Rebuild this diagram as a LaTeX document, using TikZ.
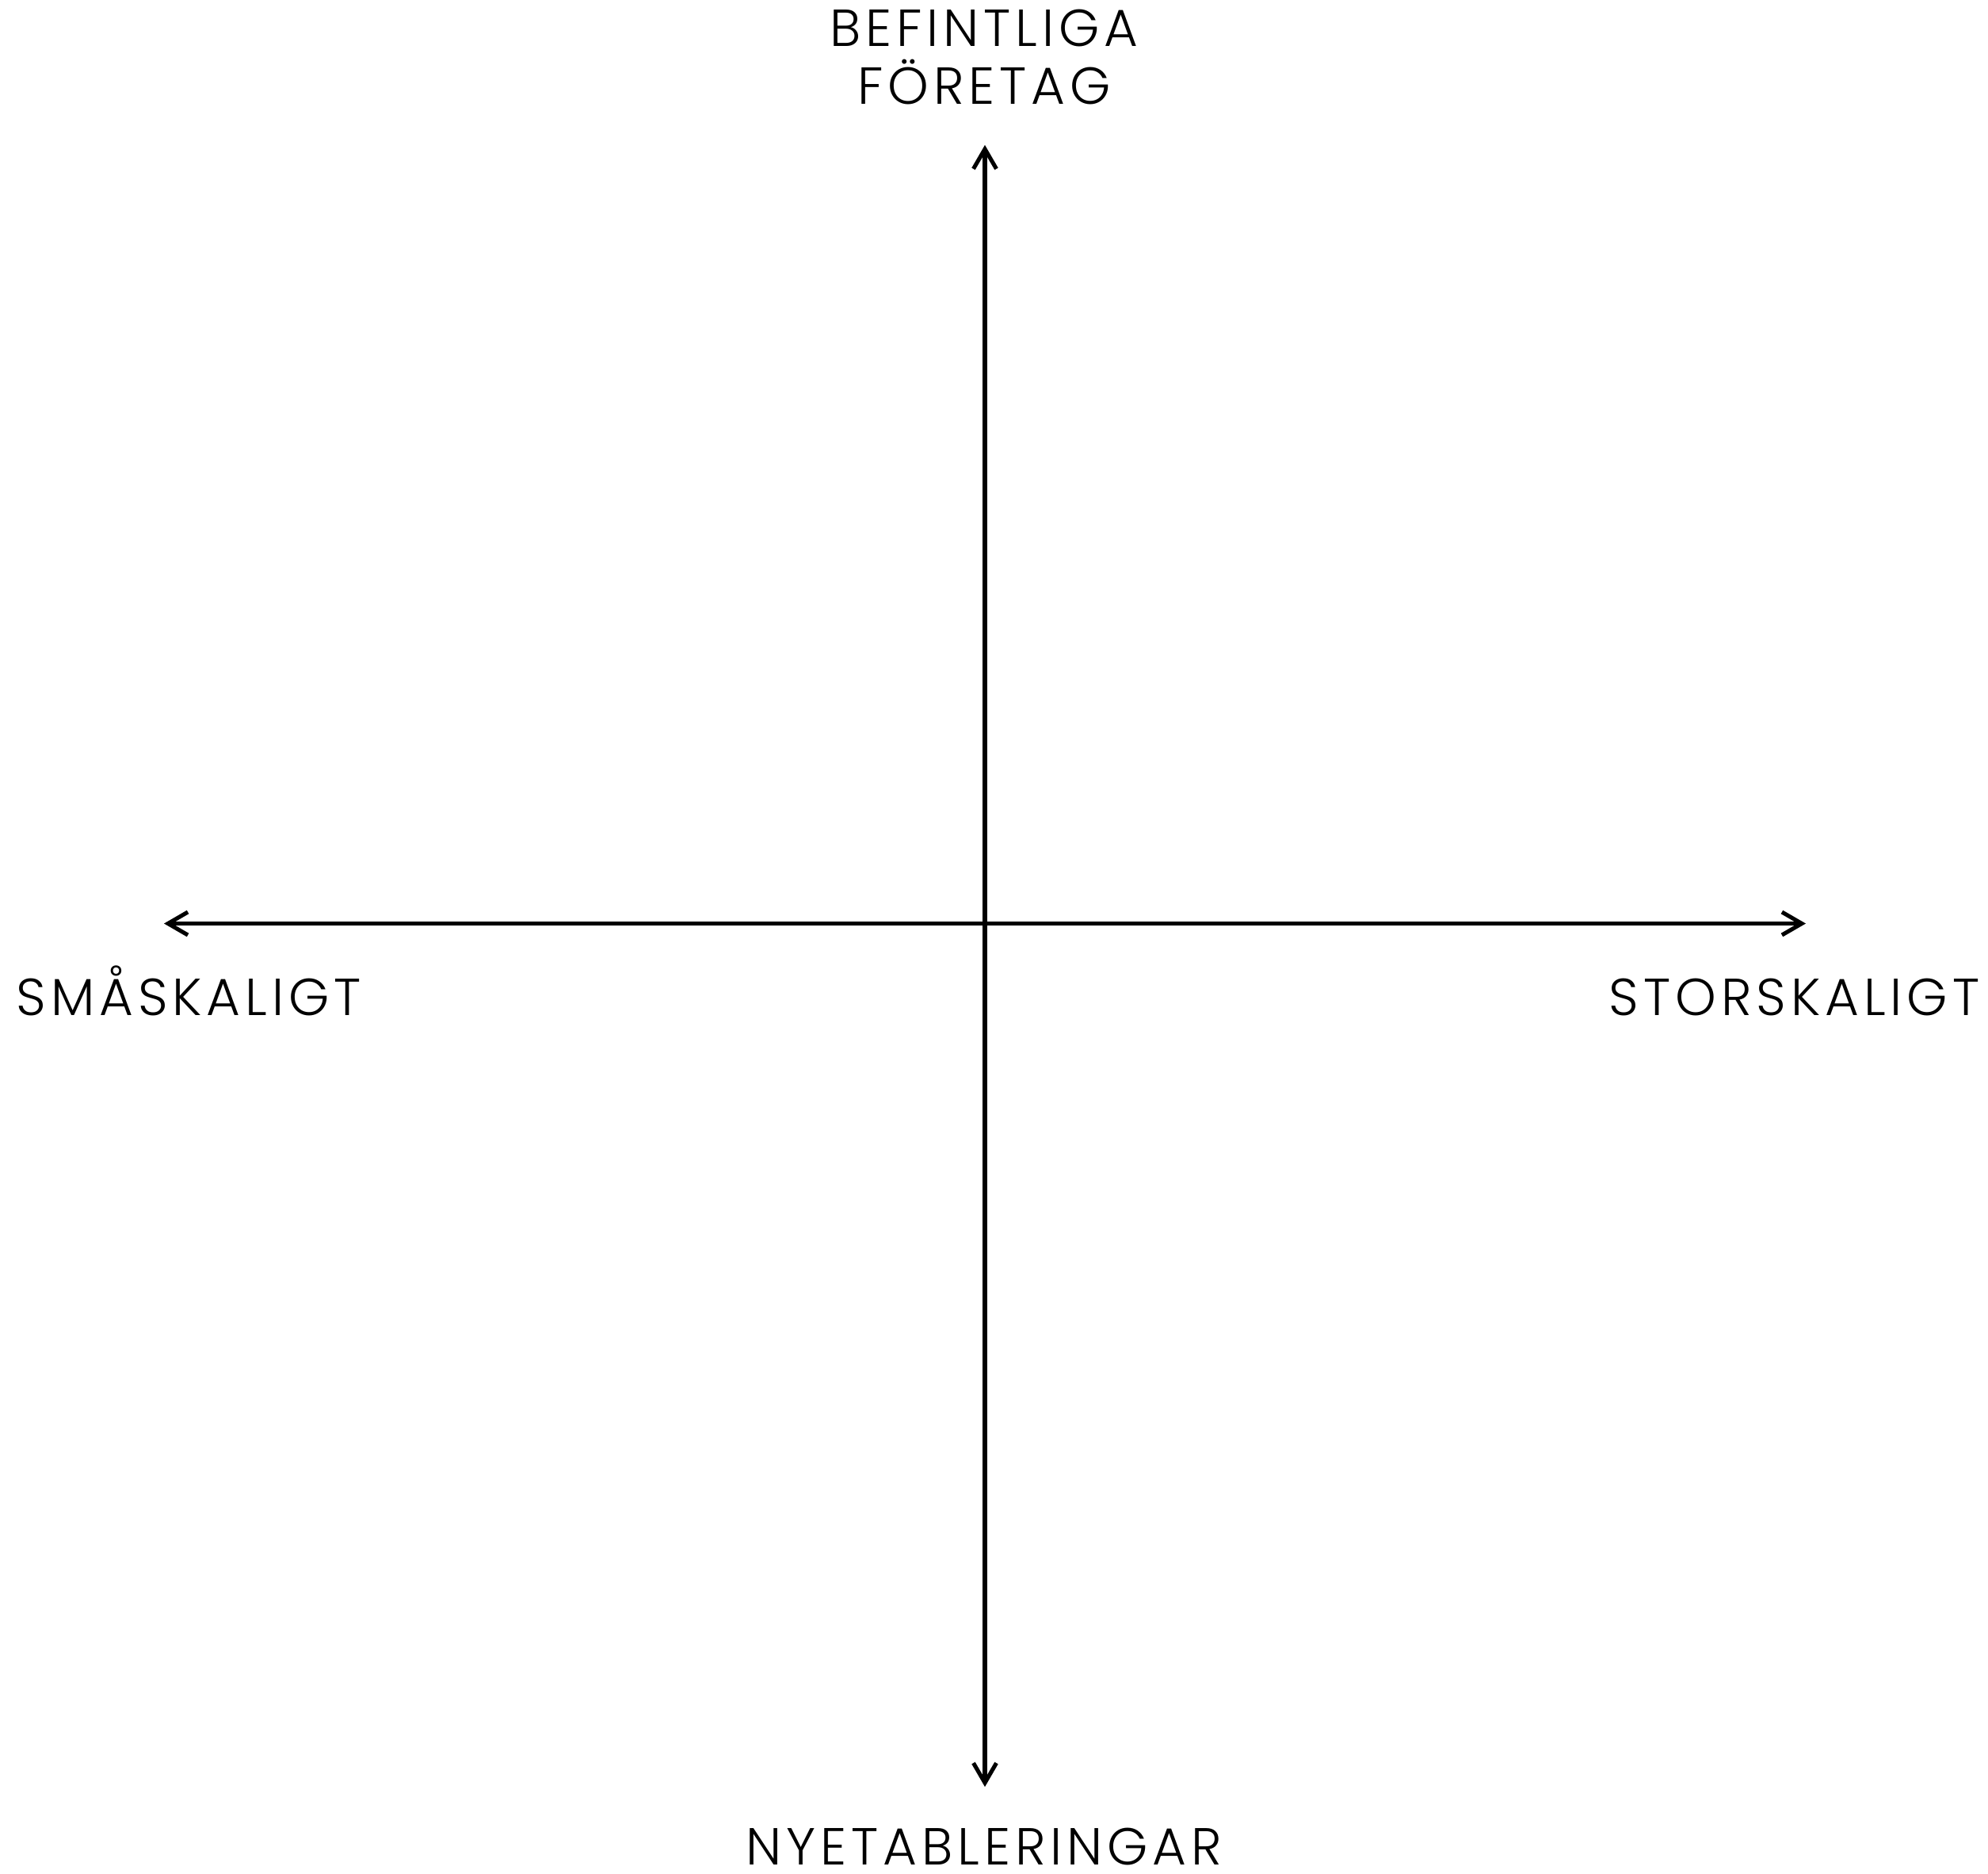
\documentclass[tikz,border=0pt]{standalone}
\usepackage{fontspec}
\setmainfont{Poppins}[UprightFont={* Light}, LetterSpace=9]
\usetikzlibrary{arrows.meta}
\begin{document}
\begin{tikzpicture}[
  axis/.style={line width=1.45pt, {Straight Barb[length=0.25cm,width=0.29cm,line width=1.45pt]}-{Straight Barb[length=0.25cm,width=0.29cm,line width=1.45pt]}},
  lab/.style={inner sep=0pt, text depth=0pt, font=\fontsize{18.7pt}{20.5pt}\selectfont}
]
\useasboundingbox (0,0) rectangle (25.09,-23.64);
\coordinate (N) at (12.43,-1.83);
\coordinate (S) at (12.43,-22.55);
\coordinate (W) at (2.07,-11.655);
\coordinate (E) at (22.79,-11.655);
\draw[axis] (S) -- (N);
\draw[axis] (W) -- (E);
\node[lab, anchor=base] (bef) at (12.42,-0.59) {BEFINTLIGA};
\node[lab, anchor=base] (foe) at (12.42,-1.31) {FÖRETAG};
\node[lab, anchor=base west] (sma) at (0.20,-12.81) {SMÅSKALIGT};
\node[lab, anchor=base east] (sto) at (24.99,-12.81) {STORSKALIGT};
\node[lab, anchor=base] (nye) at (12.42,-23.53) {NYETABLERINGAR};
\end{tikzpicture}
\end{document}
